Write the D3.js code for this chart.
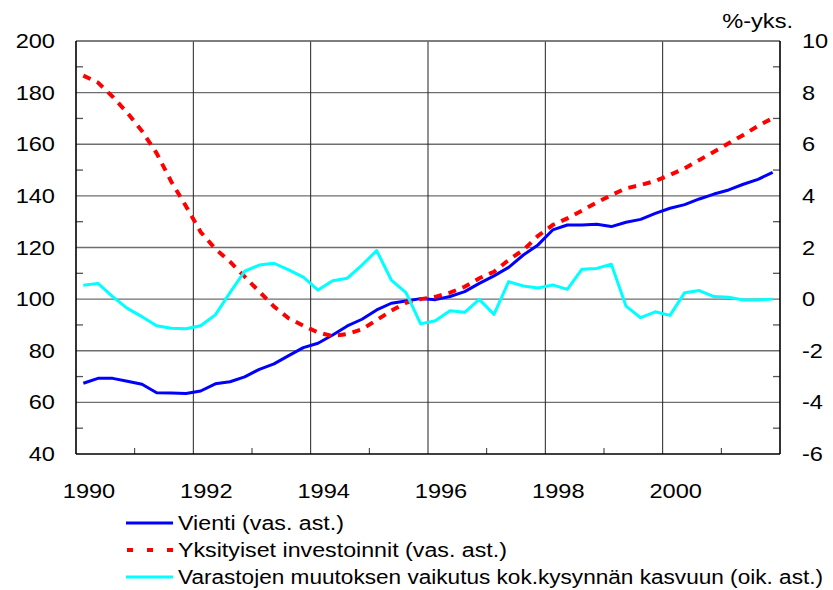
<!DOCTYPE html>
<html>
<head>
<meta charset="utf-8">
<script src="https://cdn.jsdelivr.net/npm/d3@7"></script>
<style>
  html, body { margin: 0; padding: 0; background: #fff; }
  svg { display: block; }
  text { font-family: "Liberation Sans", Arial, sans-serif; fill: #000; }
</style>
</head>
<body>
<svg id="chart" width="833" height="590"></svg>
<script>
// ---- data (quarterly, 1990Q1 .. 2001Q4) ----
const quarters = d3.range(48).map(i => 1990 + (i + 0.5) / 4);
const vienti = [67.4, 69.3, 69.3, 68.2, 67.0, 63.7, 63.6, 63.4, 64.4, 67.2, 68.0, 69.9,
  72.8, 74.9, 78.1, 81.2, 82.9, 86.1, 89.6, 92.2, 95.8, 98.4, 99.3, 100.2,
  99.8, 101.0, 102.9, 106.1, 109.0, 112.3, 117.1, 121.0, 126.8, 128.7, 128.7, 129.0,
  128.1, 129.8, 130.9, 133.2, 135.2, 136.6, 138.8, 140.7, 142.3, 144.5, 146.4, 149.1];
const investoinnit = [186.6, 183.9, 178.4, 172.2, 165.1, 156.5, 145.5, 136.0, 126.0, 119.5, 114.5, 108.7,
  102.9, 97.1, 92.6, 89.7, 87.1, 85.7, 86.5, 88.3, 91.9, 95.5, 98.6, 100.0,
  100.9, 102.5, 104.8, 108.1, 110.6, 115.2, 119.0, 124.5, 128.7, 131.3, 134.3, 137.4,
  140.3, 142.9, 144.2, 145.8, 148.1, 150.7, 153.9, 157.1, 160.4, 163.6, 167.1, 170.1];
const varastot = [0.54, 0.61, 0.10, -0.36, -0.68, -1.03, -1.13, -1.15, -1.03, -0.61, 0.25, 1.08,
  1.32, 1.39, 1.13, 0.85, 0.35, 0.71, 0.81, 1.32, 1.88, 0.74, 0.25, -0.96,
  -0.84, -0.45, -0.51, -0.01, -0.59, 0.68, 0.51, 0.43, 0.55, 0.38, 1.16, 1.19,
  1.35, -0.27, -0.72, -0.49, -0.63, 0.25, 0.33, 0.10, 0.07, -0.03, -0.03, 0.00];
const yearLabels = [1990, 1992, 1994, 1996, 1998, 2000];
const leftTicks = [40, 60, 80, 100, 120, 140, 160, 180, 200];
const rightTicks = [-6, -4, -2, 0, 2, 4, 6, 8, 10];
const seriesNames = ["Vienti (vas. ast.)", "Yksityiset investoinnit (vas. ast.)",
  "Varastojen muutoksen vaikutus kok.kysynnän kasvuun (oik. ast.)"];
const unitLabel = "%-yks.";

// ---- layout ----
const L = 76, R = 780, T = 41, B = 454;
const SX = 1.18; // horizontal stretch of axis text
const svg = d3.select("#chart");
const x = d3.scaleLinear().domain([1990, 2002]).range([L, R]);
const yL = d3.scaleLinear().domain([40, 200]).range([B, T]);
const yR = d3.scaleLinear().domain([-6, 10]).range([B, T]);

function label(g, tx, ty, str, anchor) {
  g.append("text")
    .attr("transform", `translate(${tx},${ty}) scale(${SX},1)`)
    .attr("text-anchor", anchor || "start")
    .style("font-size", "20px")
    .text(str);
}

// horizontal gridlines
svg.append("g").selectAll("line").data(leftTicks.filter(v => v > 40))
  .join("line")
  .attr("x1", L).attr("x2", R)
  .attr("y1", d => yL(d)).attr("y2", d => yL(d))
  .attr("stroke", "#6e6e6e").attr("stroke-width", 1.4);

// vertical gridlines (even years)
svg.append("g").selectAll("line").data(yearLabels.filter(v => v > 1990))
  .join("line")
  .attr("x1", d => x(d)).attr("x2", d => x(d))
  .attr("y1", T).attr("y2", B)
  .attr("stroke", "#222").attr("stroke-width", 1);

// minor ticks
const minorL = d3.range(50, 200, 20);
svg.append("g").selectAll("line").data(minorL).join("line")
  .attr("x1", L).attr("x2", L + 7)
  .attr("y1", d => yL(d)).attr("y2", d => yL(d))
  .attr("stroke", "#555").attr("stroke-width", 1.3);
const minorR = d3.range(-5, 10, 2);
svg.append("g").selectAll("line").data(minorR).join("line")
  .attr("x1", R - 7).attr("x2", R)
  .attr("y1", d => yR(d)).attr("y2", d => yR(d))
  .attr("stroke", "#555").attr("stroke-width", 1.3);
const minorX = d3.range(1991, 2002, 2);
svg.append("g").selectAll("line").data(minorX).join("line")
  .attr("x1", d => x(d)).attr("x2", d => x(d))
  .attr("y1", B - 6).attr("y2", B)
  .attr("stroke", "#333").attr("stroke-width", 1);

// frame
svg.append("line").attr("x1", L).attr("x2", R).attr("y1", T).attr("y2", T)
  .attr("stroke", "#777").attr("stroke-width", 1.3);
svg.append("line").attr("x1", L).attr("x2", L).attr("y1", T).attr("y2", B)
  .attr("stroke", "#000").attr("stroke-width", 1.6);
svg.append("line").attr("x1", R).attr("x2", R).attr("y1", T).attr("y2", B)
  .attr("stroke", "#000").attr("stroke-width", 1.6);
svg.append("line").attr("x1", L).attr("x2", R).attr("y1", B).attr("y2", B)
  .attr("stroke", "#000").attr("stroke-width", 1.6);

// series
const lineL = d3.line().x((d, i) => x(quarters[i])).y(d => yL(d));
const lineR = d3.line().x((d, i) => x(quarters[i])).y(d => yR(d));
svg.append("path").datum(vienti).attr("d", lineL)
  .attr("fill", "none").attr("stroke", "#0000ff").attr("stroke-width", 3)
  .attr("stroke-linejoin", "round");
svg.append("path").datum(investoinnit).attr("d", lineL)
  .attr("fill", "none").attr("stroke", "#ff0000").attr("stroke-width", 4)
  .attr("stroke-dasharray", "8,7");
svg.append("path").datum(varastot).attr("d", lineR)
  .attr("fill", "none").attr("stroke", "#00ffff").attr("stroke-width", 3)
  .attr("stroke-linejoin", "round");

// axis labels
const axG = svg.append("g");
leftTicks.forEach(v => label(axG, 55, yL(v) + 7, String(v), "end"));
rightTicks.forEach(v => label(axG, 802, yR(v) + 7, String(v), "start"));
yearLabels.forEach(v => label(axG, x(v) + 13, 498, String(v), "middle"));
label(axG, 793, 28, unitLabel, "end");

// legend
const legColors = ["#0000ff", "#ff0000", "#00ffff"];
const legY = [523, 550, 577];
const legW = [166, 329, 645];
const lg = svg.append("g");
seriesNames.forEach((name, i) => {
  const ln = lg.append("line")
    .attr("x1", 126).attr("x2", 173)
    .attr("y1", legY[i]).attr("y2", legY[i])
    .attr("stroke", legColors[i]).attr("stroke-width", i === 1 ? 4 : 3);
  if (i === 1) ln.attr("stroke-dasharray", "6,14").attr("x1", 127);
  lg.append("text")
    .attr("x", 178).attr("y", legY[i] + 7)
    .attr("textLength", legW[i])
    .attr("lengthAdjust", "spacingAndGlyphs")
    .style("font-size", "20px")
    .text(name);
});
</script>
</body>
</html>
